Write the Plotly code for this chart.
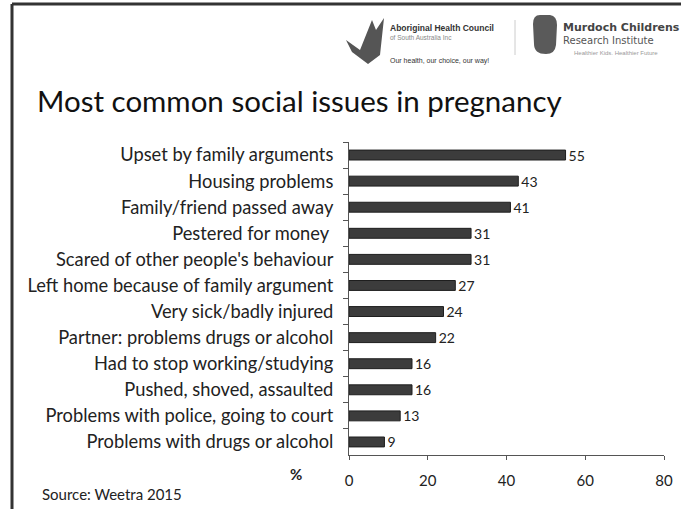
import plotly.graph_objects as go

categories = [
    "Upset by family arguments",
    "Housing problems",
    "Family/friend passed away",
    "Pestered for money ",
    "Scared of other people's behaviour",
    "Left home because of family argument",
    "Very sick/badly injured",
    "Partner: problems drugs or alcohol",
    "Had to stop working/studying",
    "Pushed, shoved, assaulted",
    "Problems with police, going to court",
    "Problems with drugs or alcohol",
]
values = [55, 43, 41, 31, 31, 27, 24, 22, 16, 16, 13, 9]
x_ticks = [0, 20, 40, 60, 80]

W, H = 681, 509
ML, MR, MT, MB = 349, 17, 142, 54
PW, PH = W - ML - MR, H - MT - MB

def px(x):
    return (x - ML) / PW

def py(y):
    return (H - MB - y) / PH

FONT = "Lato"

fig = go.Figure(go.Bar(
    x=values, y=categories, orientation="h",
    marker=dict(color="#3c3c3c", line=dict(color="#1e1e1e", width=1)),
    text=[str(v) for v in values], textposition="outside", constraintext="none",
    textfont=dict(family=FONT, size=14, color="#222222"),
    cliponaxis=False,
))

def blob_path():
    return (f"M {px(540)},{py(15)} L {px(550)},{py(15)} Q {px(557)},{py(16)} {px(557)},{py(25)} "
            f"L {px(556)},{py(45)} Q {px(555)},{py(54)} {px(546)},{py(54)} "
            f"Q {px(534)},{py(54)} {px(534)},{py(44)} L {px(533)},{py(24)} "
            f"Q {px(533)},{py(15)} {px(540)},{py(15)} Z")

shapes = [
    # frame
    dict(type="line", xref="paper", yref="paper", x0=px(12), x1=px(681), y0=py(4), y1=py(4),
         line=dict(color="#333333", width=3)),
    dict(type="line", xref="paper", yref="paper", x0=px(12), x1=px(12), y0=py(4), y1=py(509),
         line=dict(color="#333333", width=3)),
    # separator between logos
    dict(type="line", xref="paper", yref="paper", x0=px(515), x1=px(515), y0=py(20), y1=py(55),
         line=dict(color="#cccccc", width=1)),
    # Murdoch blob
    dict(type="path", xref="paper", yref="paper", path=blob_path(),
         fillcolor="#5a5a5a", line=dict(width=0)),
    # Aboriginal logo approximation
    dict(type="path", xref="paper", yref="paper",
         path=(f"M {px(346)},{py(40)} L {px(360)},{py(50)} L {px(372)},{py(20)} "
               f"L {px(376)},{py(30)} L {px(384)},{py(18)} L {px(380)},{py(55)} "
               f"L {px(368)},{py(64)} L {px(352)},{py(52)} Z"),
         fillcolor="#555555", line=dict(width=0)),
]

def ann(text, x, y, size, color="#222222", family=FONT, xanchor="left"):
    return dict(text=text, x=px(x), y=py(y), xref="paper", yref="paper", showarrow=False,
                xanchor=xanchor, yanchor="middle", font=dict(family=family, size=size, color=color))

annotations = [
    ann("Most common social issues in pregnancy", 35, 100, 29.5, "#111111"),
    ann("<b>%</b>", 304, 474, 15, xanchor="right"),
    ann("Source: Weetra 2015", 40, 494, 15),
    ann("<b>Aboriginal Health Council</b>", 388, 28, 8.5, "#333333", "Liberation Sans"),
    ann("of South Australia Inc", 388, 38, 6.5, "#888888", "Liberation Sans"),
    ann("Our health, our choice, our way!", 388, 61, 7, "#333333", "Liberation Sans"),
    ann("<b>Murdoch Childrens</b>", 561, 27, 11, "#444444", "DejaVu Sans"),
    ann("Research Institute", 561, 41, 10, "#555555", "DejaVu Sans"),
    ann("Healthier Kids. Healthier Future", 572, 53, 6, "#999999", "Liberation Sans"),
]

fig.update_layout(
    width=W, height=H,
    margin=dict(l=ML, r=MR, t=MT, b=MB, autoexpand=False),
    paper_bgcolor="white", plot_bgcolor="white",
    showlegend=False, bargap=0.62,
    shapes=shapes, annotations=annotations,
    xaxis=dict(range=[0, 80], tickvals=x_ticks, showgrid=False, zeroline=False,
               showline=True, linecolor="#555555", linewidth=1,
               ticks="outside", ticklen=4, tickcolor="#555555",
               tickfont=dict(family=FONT, size=15, color="#222222"), ticklabelstandoff=8),
    yaxis=dict(autorange="reversed", showgrid=False, zeroline=False,
               showline=True, linecolor="#555555", linewidth=1,
               ticks="outside", ticklen=5, tickcolor="#555555", tickson="boundaries",
               tickfont=dict(family=FONT, size=18.3, color="#222222"), ticklabelstandoff=11),
)

fig.write_html("out.html")
